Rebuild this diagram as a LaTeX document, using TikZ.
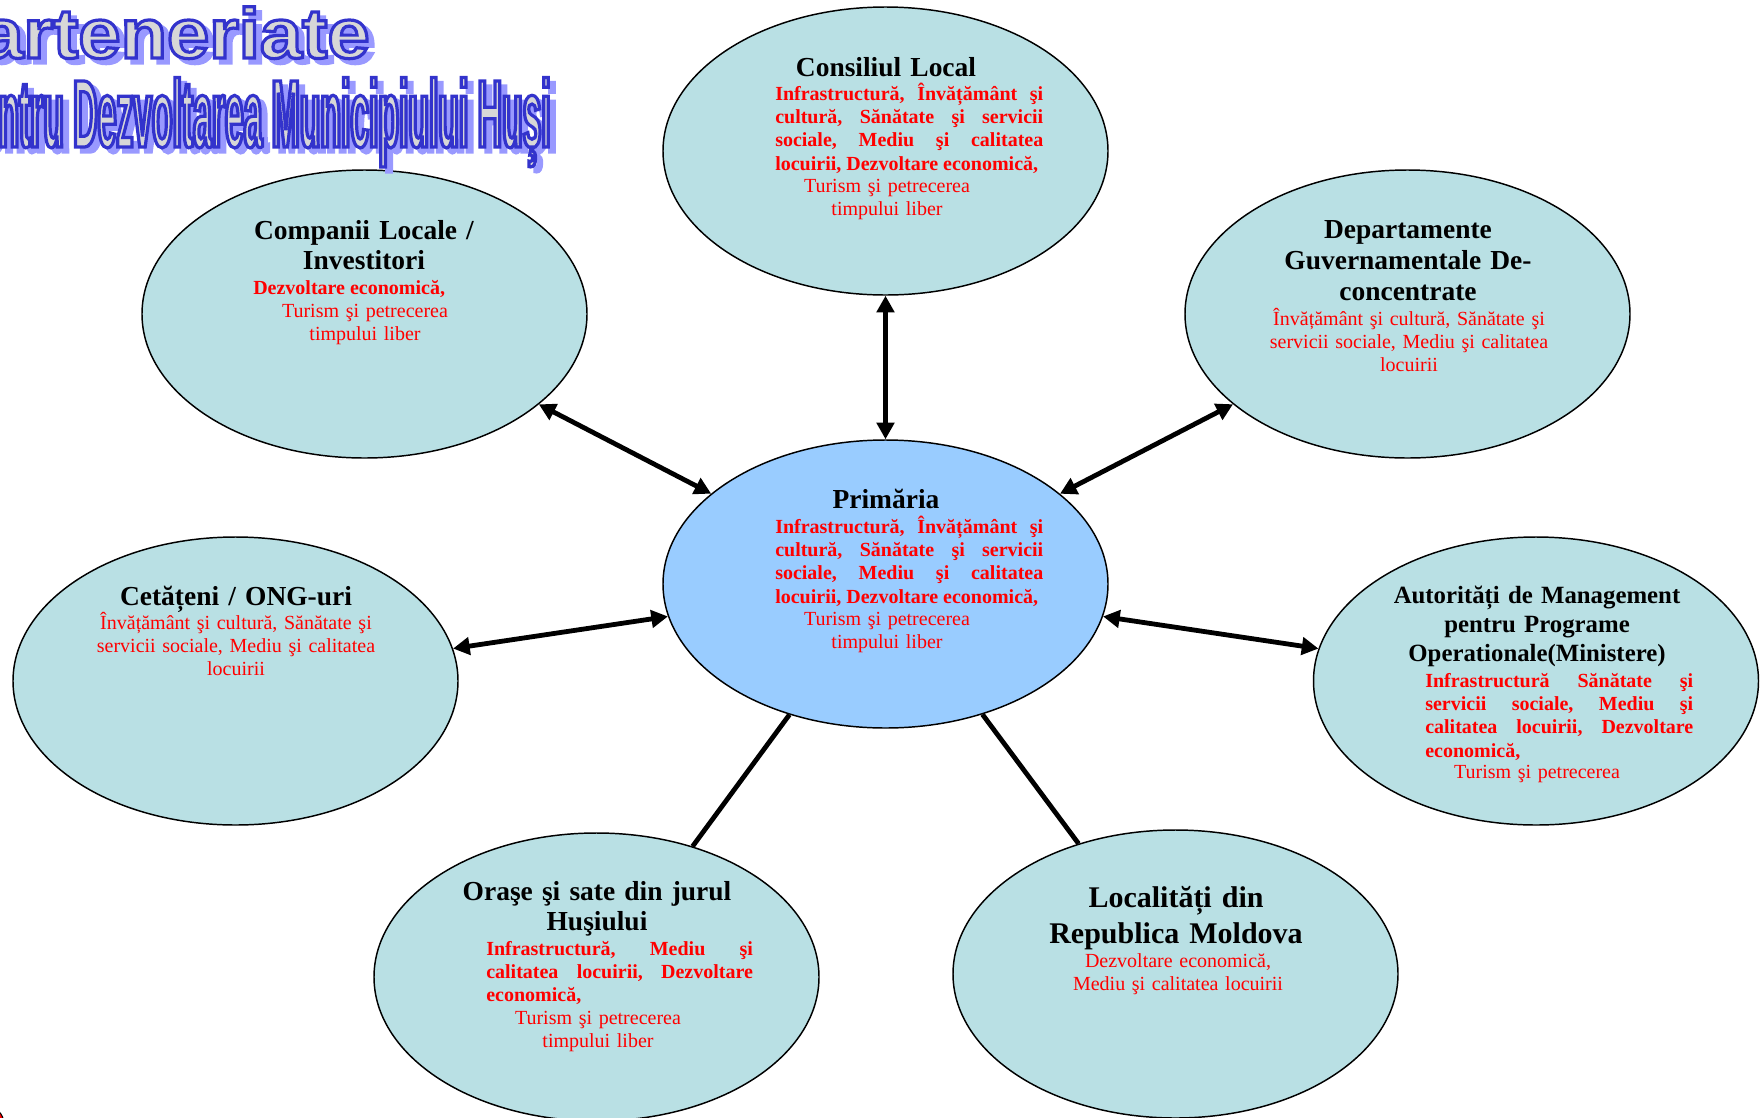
\documentclass[tikz,border=0pt]{standalone}
\usepackage{fontspec}
\setmainfont{Liberation Serif}
\newfontfamily\waA{Liberation Sans}[FakeStretch=1.075]
\newfontfamily\waB{Liberation Sans}[FakeStretch=0.351]
\usetikzlibrary{arrows.meta,shapes.geometric}
\definecolor{cyanfill}{RGB}{185,224,228}
\definecolor{primfill}{RGB}{153,204,255}
\definecolor{wagray}{RGB}{215,215,215}
\definecolor{washadow}{RGB}{153,153,255}
\newcommand\nohyph{\hyphenpenalty=10000\exhyphenpenalty=10000}
\newcommand\waoutline[1]{\special{pdf:literal direct 2 Tr 2.4 w 0.2 0.2 0.8 RG}#1\special{pdf:literal direct 0 Tr}}
\newcommand\washade[1]{\special{pdf:literal direct 2 Tr 2.4 w 0.6 0.6 1 RG}#1\special{pdf:literal direct 0 Tr}}
\tikzset{
  bubble/.style={ellipse, draw=black, line width=1.1pt, fill=cyanfill, inner sep=0pt,
    minimum width=333.75pt, minimum height=216pt},
  ttl/.style={anchor=base, inner sep=0pt, text width=330pt, align=center,
    font=\fontsize{20.6}{22.8}\selectfont\bfseries\nohyph},
  bodyj/.style={anchor=base west, inner sep=0pt, text width=#1, align=justify, text=red,
    font=\fontsize{15}{17.5}\selectfont\bfseries\nohyph},
  bodyc/.style={anchor=base, inner sep=0pt, text width=300pt, align=center, text=red,
    font=\fontsize{15}{17.5}\selectfont\nohyph},
  biarrow/.style={line width=3.6pt, arrows={Triangle[length=12.5pt,width=13pt]-Triangle[length=12.5pt,width=13pt]}},
  plainline/.style={line width=3.6pt},
  wa/.style={anchor=base east, inner sep=0pt}
}
\begin{document}
\begin{tikzpicture}[x=0.75pt,y=-0.75pt]
\useasboundingbox (0,0) rectangle (1761,1118);
% ellipses
\node[bubble] (cons) at (885.5,151) {};
\node[bubble, fill=primfill] (prim) at (885.5,584) {};
\node[bubble] (comp) at (364.5,314) {};
\node[bubble] (dep) at (1407.5,314) {};
\node[bubble] (cet) at (235.5,681) {};
\node[bubble] (aut) at (1536,681) {};
\node[bubble] (oras) at (596.5,977) {};
\node[bubble] (loc) at (1175.5,974) {};
% connectors
\draw[biarrow] (cons) -- (prim);
\draw[biarrow] (comp) -- (prim);
\draw[biarrow] (dep) -- (prim);
\draw[biarrow] (cet) -- (prim);
\draw[biarrow] (aut) -- (prim);
\draw[plainline] (prim) -- (oras);
\draw[plainline] (prim) -- (loc);
% Consiliul Local
\node[ttl] (consT) at (886,76) {Consiliul Local};
\node[bodyj=201pt] (consB) at (775,100) {Infrastructură,~Învățământ~şi \linebreak cultură,~Sănătate~şi~servicii \linebreak sociale,~Mediu~şi~calitatea \linebreak locuirii,~Dezvoltare~economică,};
\node[bodyc] (consN) at (887,192) {Turism şi petrecerea\\timpului liber};
% Primaria
\node[ttl] (primT) at (886,508) {Primăria};
\node[bodyj=201pt] (primB) at (775,533) {Infrastructură,~Învățământ~şi \linebreak cultură,~Sănătate~şi~servicii \linebreak sociale,~Mediu~şi~calitatea \linebreak locuirii,~Dezvoltare~economică,};
\node[bodyc] (primN) at (887,625) {Turism şi petrecerea\\timpului liber};
% Companii
\node[ttl] (compT) at (364,239) {Companii Locale /\\Investitori};
\node[bodyj=201pt] (compB) at (253,294) {Dezvoltare~economică,};
\node[bodyc] (compN) at (365,317) {Turism şi petrecerea\\timpului liber};
% Departamente
\node[ttl, font=\fontsize{20.6}{23.25}\selectfont\bfseries\nohyph] (depT) at (1408,238) {Departamente\\Guvernamentale De-\\concentrate};
\node[bodyc] (depN) at (1409,325) {Învățământ şi cultură, Sănătate şi\\servicii sociale, Mediu şi calitatea\\locuirii};
% Cetateni
\node[ttl] (cetT) at (236,605) {Cetățeni / ONG-uri};
\node[bodyc] (cetN) at (236,629) {Învățământ şi cultură, Sănătate şi\\servicii sociale, Mediu şi calitatea\\locuirii};
% Autoritati
\node[ttl, font=\fontsize{18.6}{22.1}\selectfont\bfseries\nohyph] (autT) at (1537,603) {Autorități de Management\\pentru Programe\\Operationale(Ministere)};
\node[bodyj=201pt] (autB) at (1425,687) {Infrastructură~Sănătate~şi \linebreak servicii~sociale,~Mediu~şi \linebreak calitatea~locuirii,~Dezvoltare \linebreak economică,};
\node[bodyc] (autN) at (1537,778) {Turism şi petrecerea};
% Orase
\node[ttl] (orasT) at (597,900) {Oraşe şi sate din jurul\\Huşiului};
\node[bodyj=200pt] (orasB) at (486,955) {Infrastructură,~Mediu~şi \linebreak calitatea~locuirii,~Dezvoltare \linebreak economică,};
\node[bodyc] (orasN) at (598,1024) {Turism şi petrecerea\\timpului liber};
% Localitati
\node[ttl, font=\fontsize{22.5}{27}\selectfont\bfseries\nohyph] (locT) at (1176,907) {Localități din\\Republica Moldova};
\node[bodyc] (locN) at (1178,967) {Dezvoltare economică,\\Mediu şi calitatea locuirii};
% bullet at bottom-left edge
\node[circle, draw=black, line width=0.8pt, fill=red, minimum size=27pt, inner sep=0pt] (bullet) at (-14,1124) {};
% WordArt title
\node[wa, text=washadow, font=\waA\bfseries\fontsize{53}{60}\selectfont] (wa1s) at (376,63) {\washade{Parteneriate}};
\node[wa, text=washadow, font=\waB\bfseries\fontsize{72}{80}\selectfont] (wa2s) at (557,152) {\washade{pentru Dezvoltarea Municipiului Huşi}};
\node[wa, text=wagray, font=\waA\bfseries\fontsize{53}{60}\selectfont] (wa1) at (370,58) {\waoutline{Parteneriate}};
\node[wa, text=wagray, font=\waB\bfseries\fontsize{72}{80}\selectfont] (wa2) at (551,147) {\waoutline{pentru Dezvoltarea Municipiului Huşi}};
\end{tikzpicture}
\end{document}
